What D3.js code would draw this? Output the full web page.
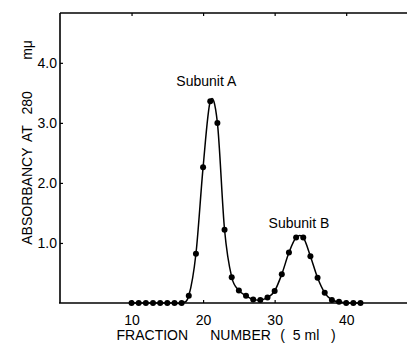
<!DOCTYPE html>
<html>
<head>
<meta charset="utf-8">
<script src="https://cdn.jsdelivr.net/npm/d3@7"></script>
<style>
  body { margin: 0; background: #fff; }
  svg text { font-family: "Liberation Sans", "DejaVu Sans", sans-serif; fill: #000; white-space: pre; }
</style>
</head>
<body>
<svg id="chart" width="407" height="344"></svg>
<script>
// fraction number, absorbancy
var FRACTIONS = [10, 11, 12, 13, 14, 15, 16, 17, 18, 19, 20, 21, 22, 23, 24, 25, 26,
  27, 28, 29, 30, 31, 32, 33, 34, 35, 36, 37, 38, 39, 40, 41, 42];
var ABSORBANCY = [0, 0, 0, 0, 0, 0, 0, 0, 0.12, 0.82, 2.26, 3.36, 3.0, 1.22, 0.43, 0.21, 0.12,
  0.06, 0.05, 0.09, 0.2, 0.48, 0.84, 1.09, 1.09, 0.78, 0.42, 0.17, 0.05, 0.02, 0, 0, 0];
var X_TICKS = [10, 20, 30, 40];
var Y_TICKS = [1, 2, 3, 4];
var PEAK_LABELS = ["Subunit A", "Subunit B"];
var PEAK_AT = [[20.45, 3.62], [33.4, 1.25]];
// y title pieces and where each one starts (absorbancy units, bottom up)
var Y_TITLE = ["ABSORBANCY", "AT", "280", "m\u03bc"];
var Y_TITLE_AT = [0.97, 2.68, 3.14, 4.05];
// x title pieces and where each one starts (fraction units)
var X_TITLE = ["FRACTION", "NUMBER", "(  5 ml   )"];
var X_TITLE_AT = [7.9, 21.0, 30.8];

var svg = d3.select("#chart");

var x = d3.scaleLinear().domain([0, 48.5]).range([60, 407]);
var y = d3.scaleLinear().domain([0, 4.83]).range([303, 13]);

var data = FRACTIONS.map(function(f, i) { return {f: f, a: ABSORBANCY[i]}; });

// axes
var xAxis = svg.append("g")
  .attr("transform", "translate(0,303)")
  .call(d3.axisBottom(x).tickValues(X_TICKS).tickSize(-3).tickPadding(12).tickSizeOuter(0));
var topAxis = svg.append("g")
  .attr("transform", "translate(0,13)")
  .call(d3.axisTop(x).tickValues(X_TICKS).tickSize(-3).tickFormat("").tickSizeOuter(0));
var yAxis = svg.append("g")
  .attr("transform", "translate(60,0)")
  .call(d3.axisLeft(y).tickValues(Y_TICKS).tickSize(-3).tickPadding(3)
    .tickFormat(d3.format(".1f")).tickSizeOuter(0));

svg.selectAll(".domain").attr("stroke", "#000").attr("stroke-width", 1.6);
svg.selectAll(".tick line").attr("stroke", "#000").attr("stroke-width", 1.2);
svg.selectAll(".tick text").attr("font-size", 14).attr("fill", "#000");
xAxis.select(".domain").attr("d", "M59,0H407");
topAxis.select(".domain").attr("d", "M60,0H407");
yAxis.select(".domain").attr("d", "M0,13V303");

// curve and points
var line = d3.line()
  .x(function(d) { return x(d.f); })
  .y(function(d) { return y(d.a); })
  .curve(d3.curveCardinal.tension(0));

svg.append("path")
  .datum(data)
  .attr("fill", "none")
  .attr("stroke", "#000")
  .attr("stroke-width", 1.5)
  .attr("d", line);

svg.selectAll("circle.pt")
  .data(data)
  .enter().append("circle")
  .attr("class", "pt")
  .attr("cx", function(d) { return x(d.f); })
  .attr("cy", function(d) { return y(d.a); })
  .attr("r", 3)
  .attr("fill", "#000");

// peak labels
svg.selectAll("text.peak")
  .data(PEAK_LABELS)
  .enter().append("text")
  .attr("class", "peak")
  .attr("x", function(d, i) { return x(PEAK_AT[i][0]); })
  .attr("y", function(d, i) { return y(PEAK_AT[i][1]); })
  .attr("text-anchor", "middle")
  .attr("font-size", 14)
  .text(function(d) { return d; });

// axis titles
svg.selectAll("text.xtitle")
  .data(X_TITLE)
  .enter().append("text")
  .attr("class", "xtitle")
  .attr("x", function(d, i) { return x(X_TITLE_AT[i]); })
  .attr("y", 340)
  .attr("font-size", 14)
  .text(function(d) { return d; });

svg.selectAll("text.ytitle")
  .data(Y_TITLE)
  .enter().append("text")
  .attr("class", "ytitle")
  .attr("transform", function(d, i) { return "translate(32," + y(Y_TITLE_AT[i]) + ") rotate(-90)"; })
  .attr("font-size", 14)
  .text(function(d) { return d; });
</script>
</body>
</html>
